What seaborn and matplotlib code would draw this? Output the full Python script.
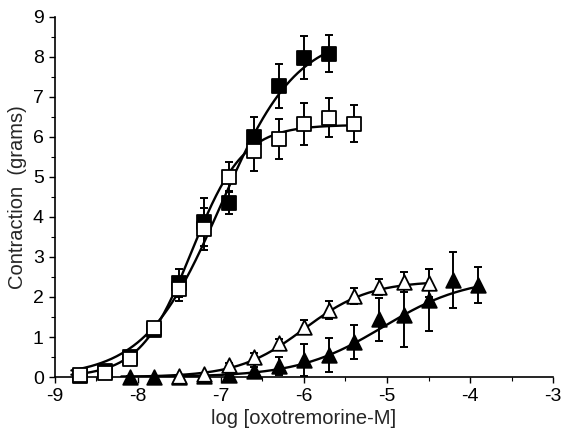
import numpy as np
import pandas as pd
import matplotlib
matplotlib.use("Agg")
import matplotlib.pyplot as plt
from matplotlib.ticker import MultipleLocator
import seaborn as sns

# ---- data ----
x_filled_sq = [-8.7, -8.4, -8.1, -7.8, -7.5, -7.2, -6.9, -6.6, -6.3, -6.0, -5.7]
y_filled_sq = [0.03, 0.16, 0.51, 1.17, 2.35, 3.88, 4.36, 6.0, 7.26, 7.98, 8.08]
e_filled_sq = [0.03, 0.05, 0.10, 0.15, 0.35, 0.60, 0.28, 0.50, 0.55, 0.53, 0.47]

x_open_sq = [-8.7, -8.4, -8.1, -7.8, -7.5, -7.2, -6.9, -6.6, -6.3, -6.0, -5.7, -5.4]
y_open_sq = [0.05, 0.10, 0.45, 1.22, 2.2, 3.7, 5.0, 5.65, 5.94, 6.32, 6.48, 6.33]
e_open_sq = [0.03, 0.05, 0.08, 0.12, 0.30, 0.52, 0.38, 0.50, 0.50, 0.53, 0.49, 0.46]

x_open_tri = [-7.5, -7.2, -6.9, -6.6, -6.3, -6.0, -5.7, -5.4, -5.1, -4.8, -4.5]
y_open_tri = [0.02, 0.08, 0.30, 0.51, 0.84, 1.25, 1.67, 2.03, 2.26, 2.38, 2.36]
e_open_tri = [0.02, 0.03, 0.05, 0.08, 0.10, 0.18, 0.23, 0.20, 0.20, 0.25, 0.35]

x_filled_tri = [-8.1, -7.8, -7.5, -7.2, -6.9, -6.6, -6.3, -6.0, -5.7, -5.4, -5.1, -4.8, -4.5, -4.2, -3.9]
y_filled_tri = [0.0, 0.0, 0.01, 0.02, 0.05, 0.16, 0.28, 0.42, 0.55, 0.87, 1.44, 1.55, 1.93, 2.43, 2.30]
e_filled_tri = [0.02, 0.02, 0.02, 0.03, 0.05, 0.10, 0.22, 0.40, 0.42, 0.42, 0.53, 0.80, 0.77, 0.70, 0.45]

# fitted Hill-curve parameters (top, logEC50, slope, x-range)
fit_filled_sq = dict(top=8.6, ec50=-7.0, slope=0.95, lo=-8.8, hi=-5.7)
fit_open_sq = dict(top=6.3, ec50=-7.35, slope=1.4, lo=-8.8, hi=-5.4)
fit_open_tri = dict(top=2.4, ec50=-6.0, slope=1.1, lo=-8.2, hi=-4.5)
fit_filled_tri = dict(top=2.5, ec50=-5.05, slope=0.85, lo=-8.2, hi=-3.9)

x_ticks = [-9, -8, -7, -6, -5, -4, -3]
y_ticks = [0, 1, 2, 3, 4, 5, 6, 7, 8, 9]
x_label = "log [oxotremorine-M]"
y_label = "Contraction  (grams)"

# ---- plotting ----
sns.set_style("ticks")
plt.rcParams["font.family"] = ["Liberation Sans", "DejaVu Sans"]

fig = plt.figure(figsize=(5.65, 4.42), dpi=100)
ax = fig.add_axes([0.097, 0.147, 0.882, 0.815])


def hill(p):
    xs = np.linspace(p["lo"], p["hi"], 200)
    ys = p["top"] / (1 + 10 ** ((p["ec50"] - xs) * p["slope"]))
    return pd.DataFrame({"x": xs, "y": ys})


for p in [fit_filled_sq, fit_open_sq, fit_open_tri, fit_filled_tri]:
    sns.lineplot(data=hill(p), x="x", y="y", ax=ax, color="black", lw=1.7,
                 zorder=2, legend=False)

series = [
    (x_filled_sq, y_filled_sq, e_filled_sq, "s", "black"),
    (x_open_sq, y_open_sq, e_open_sq, "s", "white"),
    (x_filled_tri, y_filled_tri, e_filled_tri, "^", "black"),
    (x_open_tri, y_open_tri, e_open_tri, "^", "white"),
]
for xs, ys, es, m, fc in series:
    ax.errorbar(xs, ys, yerr=es, fmt="none", ecolor="black", elinewidth=1.4,
                capsize=3, capthick=1.4, zorder=3)
    df = pd.DataFrame({"x": xs, "y": ys})
    sns.scatterplot(data=df, x="x", y="y", ax=ax, marker=m,
                    s=100 if m == "s" else 110, color=fc,
                    edgecolor="black", linewidth=1.3, zorder=4, legend=False)

ax.set_xlim(-9, -3)
ax.set_ylim(0, 9)
ax.set_xticks(x_ticks)
ax.set_yticks(y_ticks)
ax.set_xticklabels([str(t) for t in x_ticks])
ax.set_yticklabels([str(t) for t in y_ticks])
ax.xaxis.set_minor_locator(MultipleLocator(0.5))
ax.yaxis.set_minor_locator(MultipleLocator(0.5))
ax.tick_params(which="major", direction="out", length=4, width=1, labelsize=14,
               color="black", labelcolor="black", pad=4)
ax.tick_params(which="minor", direction="out", length=3, width=0.8, color="black")
ax.set_xlabel(x_label, fontsize=14.5, labelpad=3)
ax.set_ylabel(y_label, fontsize=14.5, labelpad=4)
sns.despine(ax=ax)
for s in ["left", "bottom"]:
    ax.spines[s].set_color("black")
    ax.spines[s].set_linewidth(1.2)
for art in ax.collections:
    art.set_clip_on(False)

fig.savefig("out.png", dpi=100, facecolor="white")
